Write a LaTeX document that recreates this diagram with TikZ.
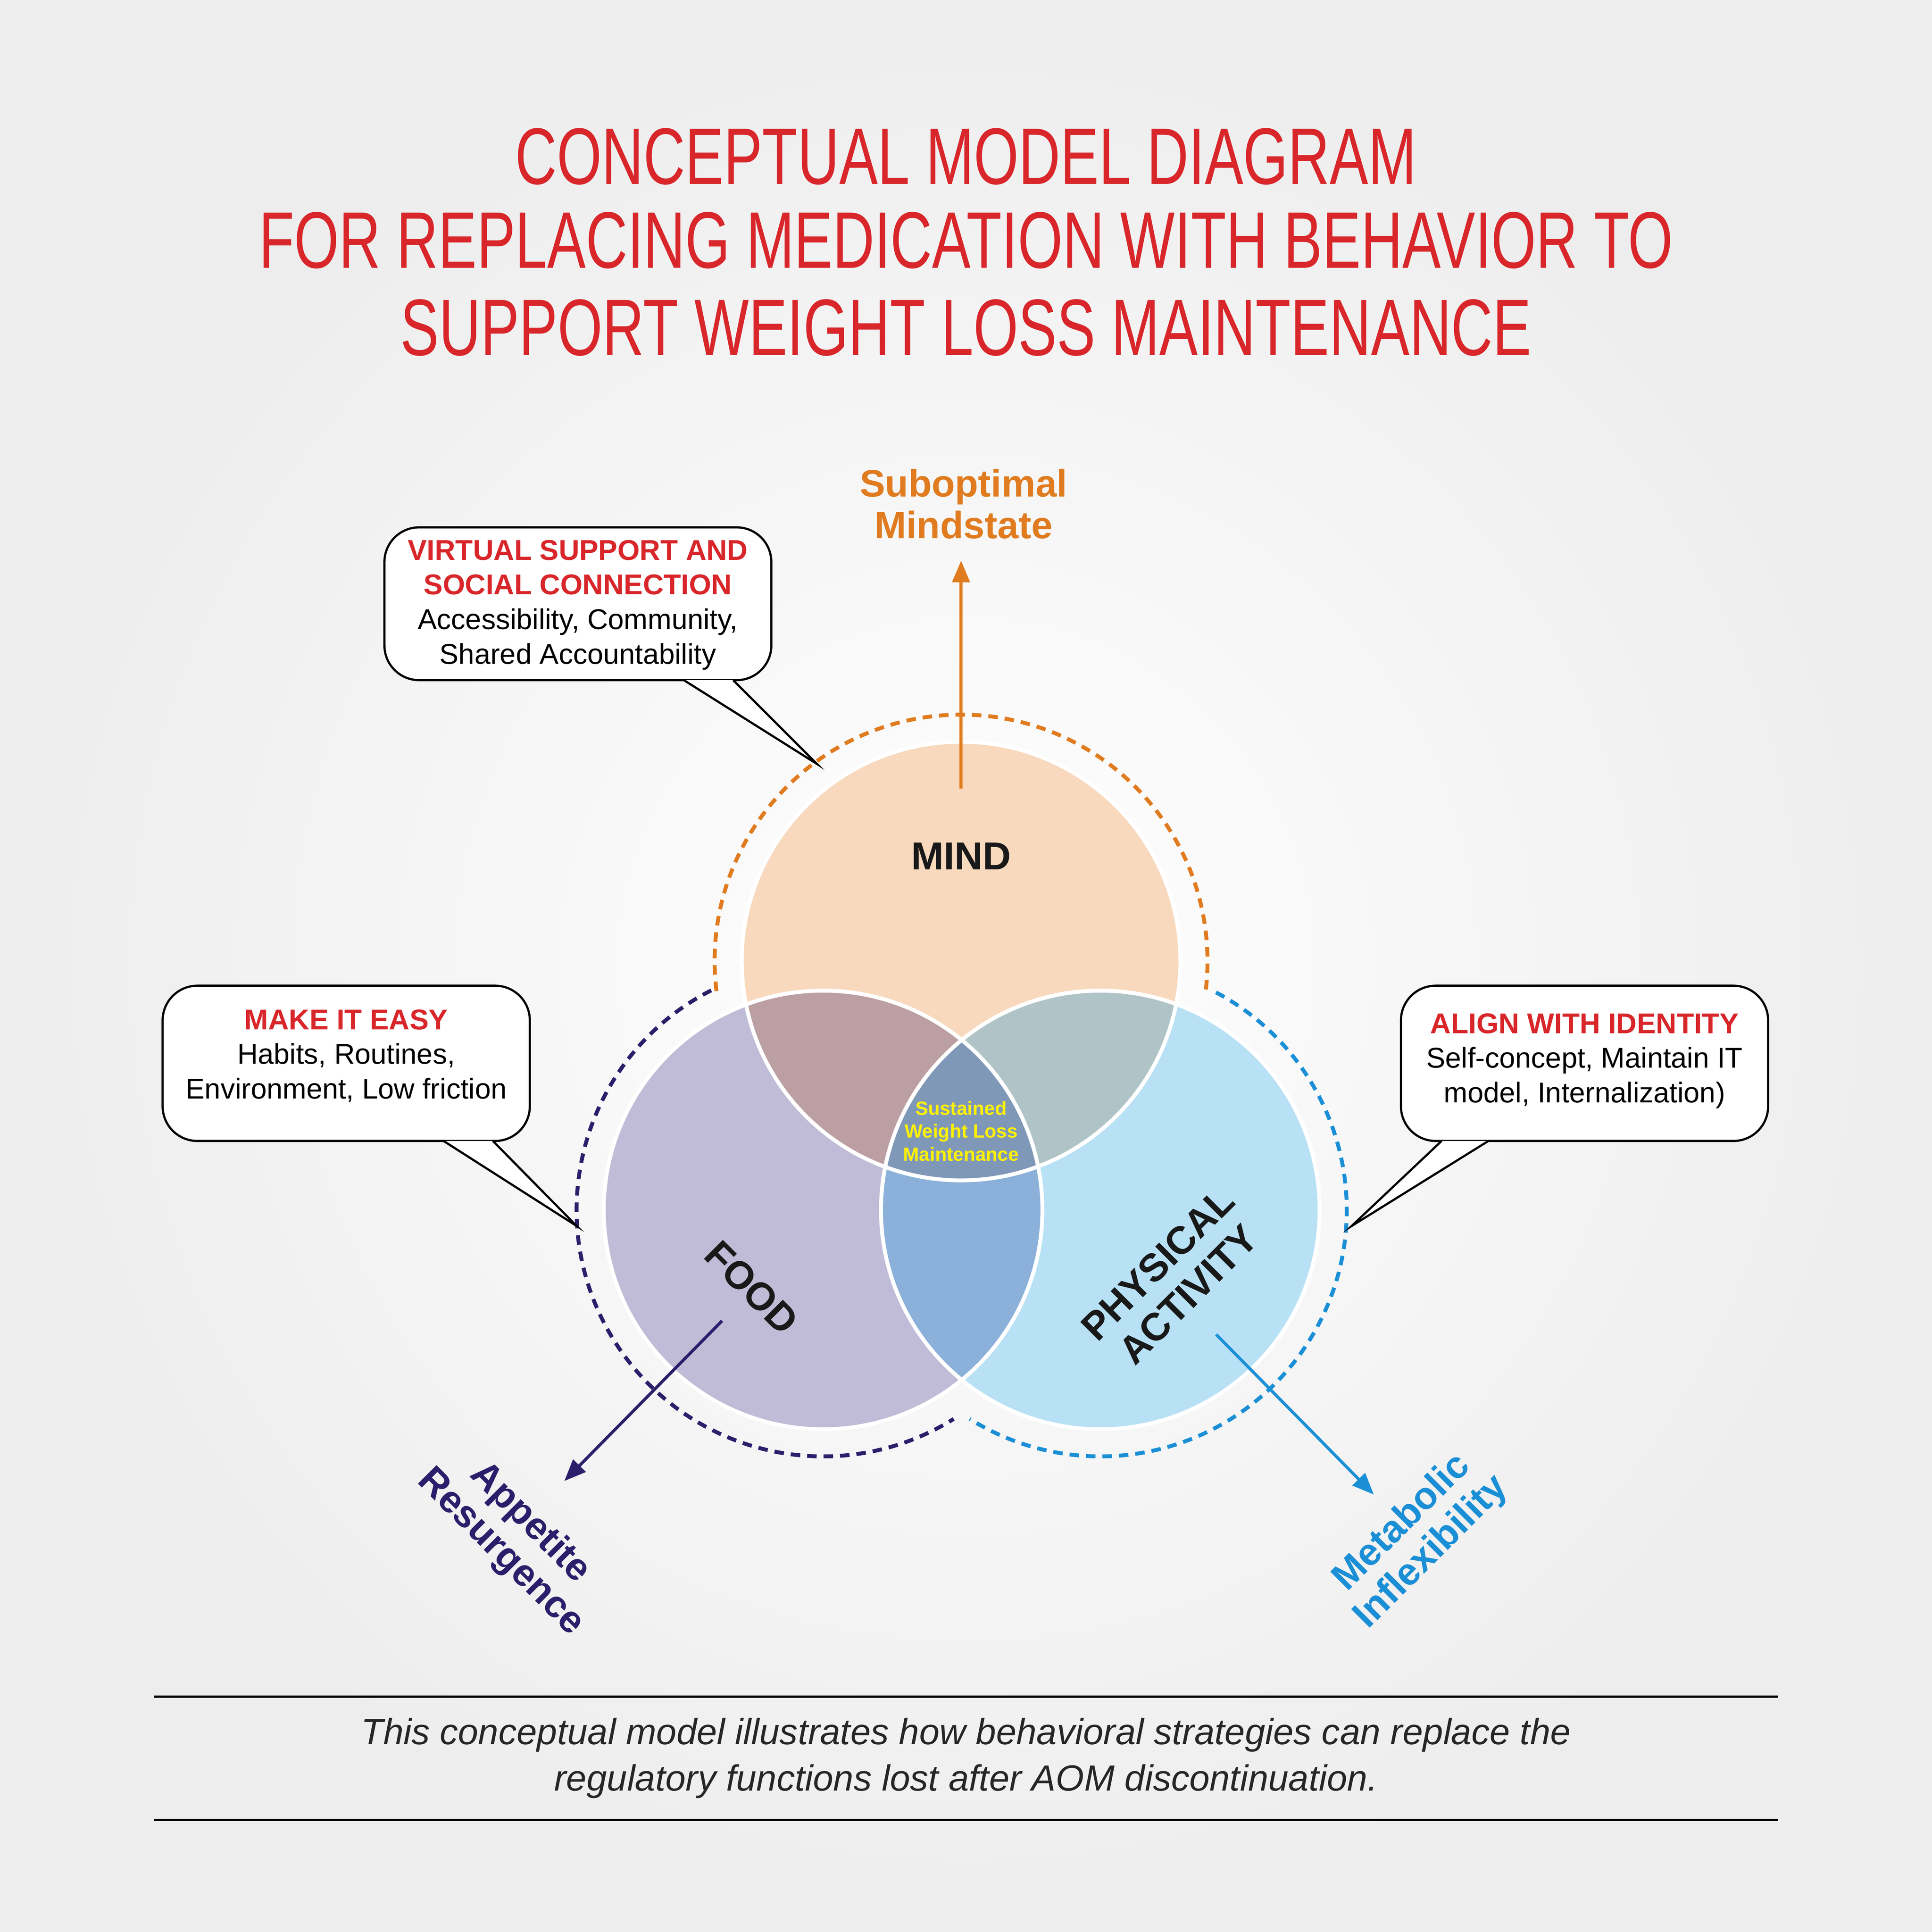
\documentclass[tikz,border=0pt]{standalone}
\usepackage{fontspec}
\setmainfont{Liberation Sans}
\newfontfamily\titlefont[FakeStretch=0.72]{Liberation Sans}
\usetikzlibrary{arrows.meta,calc}
\definecolor{tred}{HTML}{D8262A}
\definecolor{morange}{HTML}{E07B1F}
\definecolor{fnavy}{HTML}{2B1F6B}
\definecolor{pblue}{HTML}{1B8FD6}
\definecolor{cmind}{HTML}{F8D9BD}
\definecolor{cfood}{HTML}{C0BCD7}
\definecolor{cpa}{HTML}{B8E1F5}
\definecolor{cmf}{HTML}{BC9FA3}
\definecolor{cmp}{HTML}{B0C4C8}
\definecolor{cfp}{HTML}{8BB0D9}
\definecolor{cctr}{HTML}{7F98B8}
\tikzset{
 box/.style={draw=black,fill=white,line width=0.5pt,rounded corners=8},
 tail/.style={draw=black,fill=white,line width=0.5pt},
 boxtxt/.style={align=center,font=\fontsize{6.6}{8}\selectfont},
 dsh/.style={line width=0.9pt,dash pattern=on 2.2pt off 1.6pt},
 arr/.style={line width=0.7pt,-{Triangle[length=5pt,width=4pt]}},
 lbl/.style={font=\bfseries\fontsize{8.8}{9.6}\selectfont,align=center},
 circ/.style={draw=white,line width=0.9pt}
}
\begin{document}
\begin{tikzpicture}[x=0.01cm,y=0.01cm]
\useasboundingbox (0,0) rectangle (1568,1568);
\shade[inner color=white,outer color=gray!14] (0,0) rectangle (1568,1568);
% title
\node[text=tred,font=\titlefont\fontsize{18.5}{20}\selectfont] (t1) at (784,1441) {CONCEPTUAL MODEL DIAGRAM};
\node[text=tred,font=\titlefont\fontsize{18.5}{20}\selectfont] (t2) at (784,1373) {FOR REPLACING MEDICATION WITH BEHAVIOR TO};
\node[text=tred,font=\titlefont\fontsize{18.5}{20}\selectfont] (t3) at (784,1302) {SUPPORT WEIGHT LOSS MAINTENANCE};
% circles
\coordinate (M) at (780,788);
\coordinate (F) at (668,586);
\coordinate (P) at (893,586);
\fill[cmind] (M) circle (178);
\fill[cfood] (F) circle (178);
\fill[cpa] (P) circle (178);
\begin{scope}\clip (M) circle (178); \fill[cmf] (F) circle (178); \fill[cmp] (P) circle (178);\end{scope}
\begin{scope}\clip (F) circle (178); \fill[cfp] (P) circle (178);
 \clip (P) circle (178); \fill[cctr] (M) circle (178);\end{scope}
\draw[circ] (M) circle (178) (F) circle (178) (P) circle (178);
% dashed arcs
\draw[dsh,morange] ($(M)+(187:200)$) arc (187:-7:200);
\draw[dsh,fnavy] ($(F)+(117:200)$) arc (117:302:200);
\draw[dsh,pblue] ($(P)+(62:200)$) arc (62:-122:200);
% labels in circles
\node[font=\bfseries\fontsize{9}{10}\selectfont,text=black!90] (mind) at (780,873) {MIND};
\node[font=\bfseries\fontsize{9}{10}\selectfont,rotate=-45,text=black!90] (food) at (610,523) {FOOD};
\node[font=\bfseries\fontsize{9}{10}\selectfont,rotate=45,align=center,text=black!90] (pa) at (952,530) {PHYSICAL\\ACTIVITY};
\node[font=\bfseries\fontsize{4.4}{5.3}\selectfont,text=yellow,align=center] (ctr) at (780,650) {Sustained\\Weight Loss\\Maintenance};
% arrows
\coordinate (a1) at (780,928); \coordinate (a2) at (780,1113);
\draw[arr,morange] (a1) -- (a2);
\node[lbl,text=morange] (sm) at (782,1159) {Suboptimal\\Mindstate};
\coordinate (b1) at (586,496); \coordinate (b2) at (458,366);
\draw[arr,fnavy] (b1) -- (b2);
\node[lbl,text=fnavy,rotate=-45] (ar) at (418,320) {Appetite\\Resurgence};
\coordinate (c1) at (987,485); \coordinate (c2) at (1115,355);
\draw[arr,pblue] (c1) -- (c2);
\node[lbl,text=pblue,rotate=45] (mi) at (1150,320) {Metabolic\\Inflexibility};
% callouts
\coordinate (v) at (663,948);
\draw[box] (312,1016) rectangle (626,1140);
\draw[tail] (555,1016) -- (v) -- (595,1016);
\fill[white] (556,1017) rectangle (594,1020);
\node[boxtxt] (vt) at (469,1077) {{\bfseries\color{tred}VIRTUAL SUPPORT AND}\\{\bfseries\color{tred}SOCIAL CONNECTION}\\Accessibility, Community,\\Shared Accountability};
\coordinate (m) at (468,573);
\draw[box] (132,642) rectangle (430,768);
\draw[tail] (360,642) -- (m) -- (400,642);
\fill[white] (361,643) rectangle (399,646);
\node[boxtxt] (mt) at (281,711) {{\bfseries\color{tred}MAKE IT EASY}\\Habits, Routines,\\Environment, Low friction};
\coordinate (al) at (1097,573);
\draw[box] (1137,642) rectangle (1435,768);
\draw[tail] (1170,642) -- (al) -- (1208,642);
\fill[white] (1171,643) rectangle (1207,646);
\node[boxtxt] (at) at (1286,707) {{\bfseries\color{tred}ALIGN WITH IDENTITY}\\Self-concept, Maintain IT\\model, Internalization)};
% footer
\coordinate (l1) at (125,191); \coordinate (l2) at (1443,191);
\coordinate (l3) at (125,91); \coordinate (l4) at (1443,91);
\draw[line width=0.5pt] (l1) -- (l2) (l3) -- (l4);
\node[font=\itshape\fontsize{8.4}{10.7}\selectfont,align=center,text=black!85] (cap) at (784,141) {This conceptual model illustrates how behavioral strategies can replace the\\regulatory functions lost after AOM discontinuation.};
\end{tikzpicture}
\end{document}
